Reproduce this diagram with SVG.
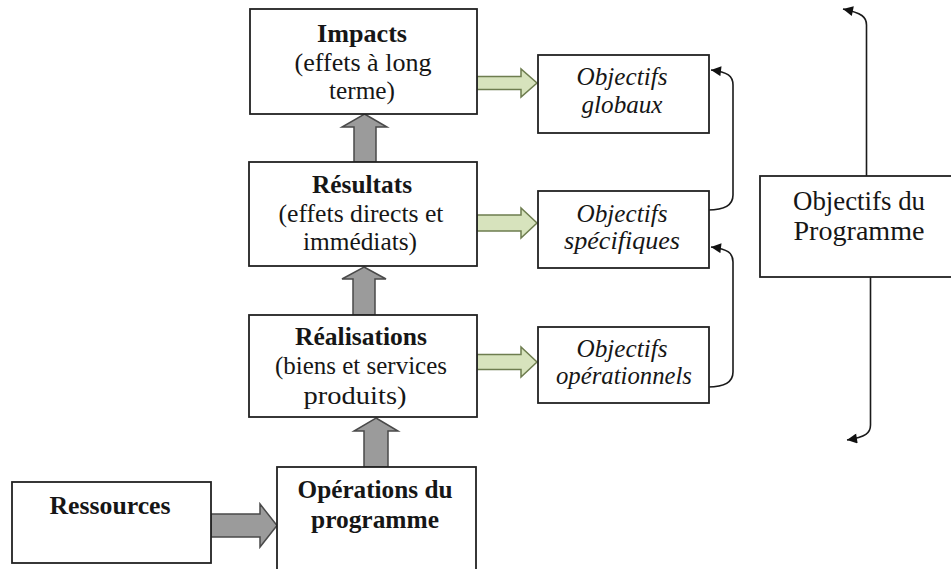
<svg xmlns="http://www.w3.org/2000/svg" width="951" height="569" viewBox="0 0 951 569">
  <style>
    .box { fill: #ffffff; stroke: #222222; stroke-width: 1.8; }
    .t { font-family: "Liberation Serif", "Times New Roman", serif; font-size: 25px; fill: #161616; text-anchor: middle; }
    .b { font-weight: bold; }
    .i { font-style: italic; }
    .big { font-size: 27px; }
    .gray { fill: #9b9b9b; stroke: #4a4a4a; stroke-width: 1.5; stroke-linejoin: miter; }
    .green { fill: #d7e3bd; stroke: #6e7d4f; stroke-width: 1.5; }
    .link { fill: none; stroke: #1a1a1a; stroke-width: 1.6; marker-end: url(#head); }
  </style>
  <defs>
    <marker id="head" viewBox="0 0 10 10" refX="10" refY="5" markerWidth="13" markerHeight="10" markerUnits="userSpaceOnUse" orient="auto">
      <path d="M0,0 L10,5 L0,10 z" fill="#111111"/>
    </marker>
  </defs>
  <rect width="951" height="569" fill="#ffffff"/>

  <!-- block arrows and curved links -->
  <g id="connectors">
    <polygon class="gray" points="364.5,114 387,127 376,127 376,162 354,162 354,127 342,127"/>
    <polygon class="gray" points="364,267 386,279 375,279 375,315 353,315 353,279 342,279"/>
    <polygon class="gray" points="376,418 398,431 388,431 388,467 364,467 364,431 354,431"/>
    <polygon class="gray" points="211,514 260,514 260,504 277,525.5 260,547 260,537 211,537"/>

    <polygon class="green" points="477,76.5 521,76.5 521,69 537,83 521,97 521,89.5 477,89.5"/>
    <polygon class="green" points="477,215 521,215 521,208 537,223 521,238 521,231 477,231"/>
    <polygon class="green" points="477,354.5 521,354.5 521,347 537,362 521,377 521,369.5 477,369.5"/>

    <path class="link" d="M708,210 C725,210 733,205 733,195 L733,85 C733,76 728,72 711,70"/>
    <path class="link" d="M708,387 C725,387 733,382 733,372 L733,262 C733,253 728,249 711,247"/>
    <path class="link" d="M866.5,176 L866.5,25 C866.5,17 862,13 843,9"/>
    <path class="link" d="M870.5,277 L870.5,425 C870.5,433 866,437 847,440"/>
  </g>

  <g id="impacts">
    <rect class="box" x="250" y="9" width="227" height="105"/>
    <text class="t b" x="362" y="42" textLength="90" lengthAdjust="spacingAndGlyphs">Impacts</text>
    <text class="t" x="363" y="71" textLength="137" lengthAdjust="spacingAndGlyphs">(effets à long</text>
    <text class="t" x="362" y="99" textLength="66" lengthAdjust="spacingAndGlyphs">terme)</text>
  </g>

  <g id="resultats">
    <rect class="box" x="249" y="162" width="228" height="104"/>
    <text class="t b" x="362" y="193" textLength="100" lengthAdjust="spacingAndGlyphs">Résultats</text>
    <text class="t" x="361" y="222" textLength="165" lengthAdjust="spacingAndGlyphs">(effets directs et</text>
    <text class="t" x="360" y="250" textLength="114" lengthAdjust="spacingAndGlyphs">immédiats)</text>
  </g>

  <g id="realisations">
    <rect class="box" x="249" y="315" width="228" height="102"/>
    <text class="t b" x="361" y="345" textLength="132" lengthAdjust="spacingAndGlyphs">Réalisations</text>
    <text class="t" x="361" y="374" textLength="172" lengthAdjust="spacingAndGlyphs">(biens et services</text>
    <text class="t" x="355" y="404" textLength="103" lengthAdjust="spacingAndGlyphs">produits)</text>
  </g>

  <g id="operations">
    <rect class="box" x="277" y="467" width="199" height="110"/>
    <text class="t b" x="375" y="498" textLength="155" lengthAdjust="spacingAndGlyphs">Opérations du</text>
    <text class="t b" x="375" y="528" textLength="128" lengthAdjust="spacingAndGlyphs">programme</text>
  </g>

  <g id="ressources">
    <rect class="box" x="12" y="482" width="199" height="81"/>
    <text class="t b" x="110" y="514" textLength="121" lengthAdjust="spacingAndGlyphs">Ressources</text>
  </g>

  <g id="objectifs-globaux">
    <rect class="box" x="538" y="55" width="171" height="78"/>
    <text class="t i" x="622" y="85" textLength="91" lengthAdjust="spacingAndGlyphs">Objectifs</text>
    <text class="t i" x="622" y="113" textLength="81" lengthAdjust="spacingAndGlyphs">globaux</text>
  </g>

  <g id="objectifs-specifiques">
    <rect class="box" x="538" y="191" width="171" height="77"/>
    <text class="t i" x="622" y="222" textLength="91" lengthAdjust="spacingAndGlyphs">Objectifs</text>
    <text class="t i" x="622" y="249" textLength="116" lengthAdjust="spacingAndGlyphs">spécifiques</text>
  </g>

  <g id="objectifs-operationnels">
    <rect class="box" x="538" y="327" width="171" height="76"/>
    <text class="t i" x="622" y="357" textLength="91" lengthAdjust="spacingAndGlyphs">Objectifs</text>
    <text class="t i" x="624" y="384" textLength="136" lengthAdjust="spacingAndGlyphs">opérationnels</text>
  </g>

  <g id="objectifs-programme">
    <rect class="box" x="760" y="176" width="200" height="101"/>
    <text class="t big" x="859" y="210" textLength="132" lengthAdjust="spacingAndGlyphs">Objectifs du</text>
    <text class="t big" x="859" y="240" textLength="131" lengthAdjust="spacingAndGlyphs">Programme</text>
  </g>
</svg>
